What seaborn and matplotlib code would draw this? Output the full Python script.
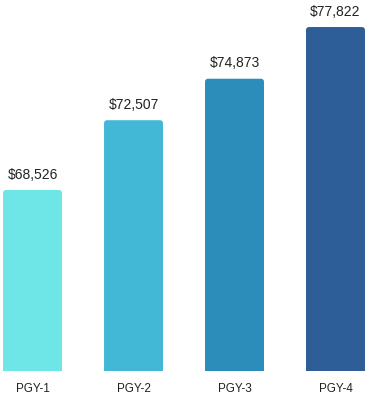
import pandas as pd
import seaborn as sns
import matplotlib.pyplot as plt
from matplotlib.patches import FancyBboxPatch

# data
levels = ['PGY-1', 'PGY-2', 'PGY-3', 'PGY-4']
salaries = [68526, 72507, 74873, 77822]
colors = ['#6EE6E8', '#43B8D6', '#2C8CBA', '#2D5E98']

df = pd.DataFrame({'Level': levels, 'Salary': salaries})

sns.set_style('white')
plt.rcParams['font.family'] = ['Liberation Sans', 'DejaVu Sans']

fig = plt.figure(figsize=(3.67, 4.0), dpi=100)
ax = fig.add_axes([0, 0.0725, 1, 0.9275])

sns.barplot(data=df, x='Level', y='Salary', hue='Level', palette=colors,
            width=0.584, legend=False, ax=ax, saturation=1)

ymin, ymax = 58200, 79364
ax.set_xlim(-0.322, 3.312)
ax.set_ylim(ymin, ymax)

# swap plain bars for ones with rounded tops
px_x = 3.634 / 367
px_y = (ymax - ymin) / 371
for p in list(ax.patches):
    x, w, h = p.get_x(), p.get_width(), p.get_height()
    top = p.get_y() + h
    bottom = ymin - 10 * px_y
    rb = FancyBboxPatch((x, bottom), w, top - bottom,
                        boxstyle='round,pad=0,rounding_size=%f' % (3 * px_x),
                        mutation_aspect=px_y / px_x,
                        facecolor=p.get_facecolor(), edgecolor='none')
    p.remove()
    ax.add_patch(rb)
    ax.annotate('${:,.0f}'.format(top), (x + w / 2, top),
                xytext=(0, 6), textcoords='offset points',
                ha='center', va='bottom', fontsize=10, color='#222222')

sns.despine(ax=ax, left=True, bottom=True)
ax.set_yticks([])
ax.set_xlabel('')
ax.set_ylabel('')
ax.tick_params(axis='x', length=0, pad=9, labelsize=8.4, labelcolor='#222222')

fig.savefig('out.png', dpi=100)
